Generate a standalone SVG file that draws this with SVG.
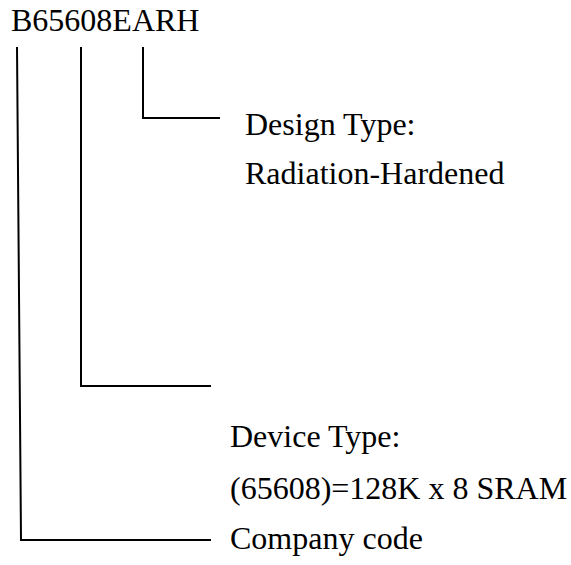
<svg xmlns="http://www.w3.org/2000/svg" width="571" height="565" viewBox="0 0 571 565">
<style>
text{font-family:"Liberation Serif","Times New Roman",serif;font-size:32px;fill:#000}
.c{fill:none;stroke:#000;stroke-width:2}
</style>
<rect width="571" height="565" fill="#fff"/>
<g id="title"><text x="11" y="31">B65608EARH</text></g>
<g id="design"><text x="245" y="135">Design Type:</text><text x="245" y="184">Radiation-Hardened</text></g>
<g id="device"><text x="230" y="447">Device Type:</text><text x="230" y="499">(65608)=128K x 8 SRAM</text></g>
<g id="company"><text x="230" y="549">Company code</text></g>
<g id="connectors">
<path class="c" d="M143,47 V118 H220"/>
<path class="c" d="M81,47 V386 H211"/>
<path class="c" d="M17,47 L21,540 H211"/>
</g>
</svg>
